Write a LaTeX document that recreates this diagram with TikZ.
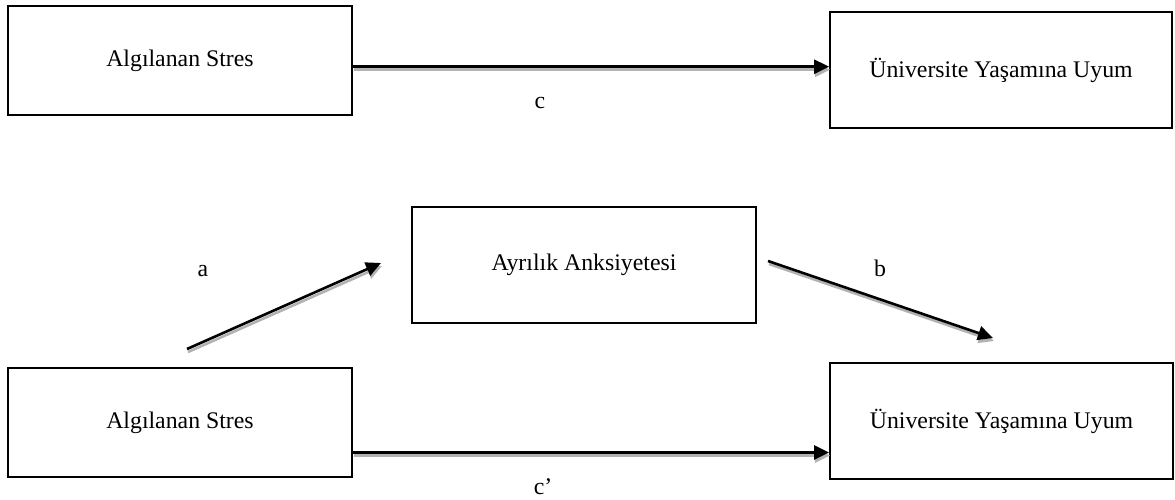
\documentclass[tikz,border=0pt]{standalone}
\usepackage{fontspec}
\setmainfont{Liberation Serif}
\usetikzlibrary{arrows.meta}
\tikzset{
  box/.style={draw=black, line width=1.8pt, fill=white, inner sep=0pt, font=\fontsize{23.8}{28}\selectfont},
  lbl/.style={inner sep=0pt, font=\fontsize{23.8}{28}\selectfont},
  arr/.style={line width=2.6pt, -{Triangle[length=15pt,width=14pt]}},
}
\newcommand{\sarrow}[2]{%
  \draw[arr, gray!60, transform canvas={shift={(1pt,-3pt)}}] (#1) -- (#2);
  \draw[arr, black] (#1) -- (#2);}
\begin{document}
\begin{tikzpicture}[x=1pt,y=-1pt]
\useasboundingbox (0,0) rectangle (1175,500);
\node[box, minimum width=344pt, minimum height=109pt] (tl) at (180,60.5) {Algılanan Stres};
\node[box, minimum width=342pt, minimum height=116pt] (tr) at (1001,70) {Üniversite Yaşamına Uyum};
\node[box, minimum width=344pt, minimum height=116pt] (mid) at (584,265) {Ayrılık Anksiyetesi};
\node[box, minimum width=344pt, minimum height=109pt] (bl) at (180,422.5) {Algılanan Stres};
\node[box, minimum width=343pt, minimum height=116pt] (br) at (1001.5,421) {Üniversite Yaşamına Uyum};
\coordinate (cy) at (0,66.7);
\coordinate (cpy) at (0,452.5);
\coordinate (c1) at (tl.east |- cy);
\coordinate (c2) at (tr.west |- cy);
\coordinate (d1) at (bl.east |- cpy);
\coordinate (d2) at (br.west |- cpy);
\coordinate (a1) at (187,349);
\coordinate (a2) at (381,263);
\coordinate (b1) at (768,261);
\coordinate (b2) at (993,338);
\sarrow{c1}{c2}
\sarrow{d1}{d2}
\sarrow{a1}{a2}
\sarrow{b1}{b2}
\node[lbl] (lc) at (540,103) {c};
\node[lbl] (lcp) at (543,487) {c’};
\node[lbl] (la) at (203,271) {a};
\node[lbl] (lb) at (880,268) {b};
\end{tikzpicture}
\end{document}
